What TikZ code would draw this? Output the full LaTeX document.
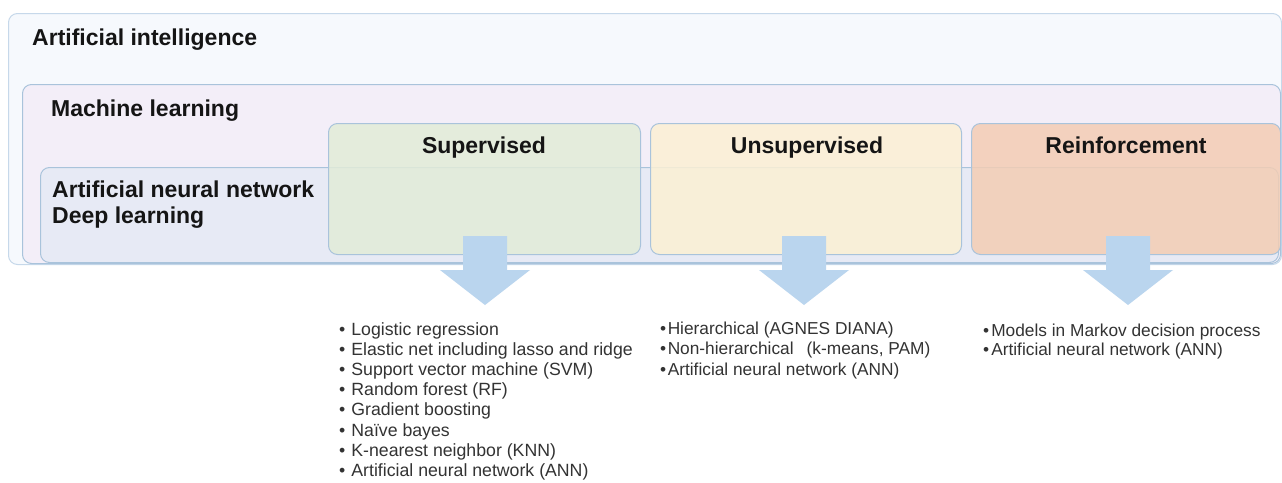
\documentclass[tikz,border=0pt]{standalone}
\usepackage{fontspec}
\setmainfont{Liberation Sans}
\definecolor{aiF}{HTML}{F6F9FD}
\definecolor{aiD}{HTML}{C6D8EA}
\definecolor{mlF}{HTML}{F3EEF8}
\definecolor{annF}{HTML}{E7EAF5}
\definecolor{bD}{HTML}{A9C3DB}
\definecolor{supF}{HTML}{E2ECD8}
\definecolor{unsF}{HTML}{FCF0D4}
\definecolor{renF}{HTML}{F3CDB4}
\definecolor{arrC}{HTML}{BAD5EE}
\definecolor{txt}{HTML}{151515}
\definecolor{ltxt}{HTML}{333333}
\tikzset{
  box/.style={draw=bD, line width=1pt, rounded corners=9pt, inner sep=0pt, anchor=north west},
  catbox/.style={box, fill opacity=0.85},
  head/.style={font=\fontsize{23}{26}\selectfont\bfseries, text=txt, inner sep=0pt},
  item/.style={font=\fontsize{17.7}{20}\selectfont, text=ltxt, inner sep=0pt, anchor=base west},
  smallitem/.style={item, font=\fontsize{17.3}{20}\selectfont},
  downarr/.pic={\fill[arrC] (-22,0) -- (22,0) -- (22,34) -- (45,34) -- (0,69) -- (-45,34) -- (-22,34) -- cycle;}
}
\begin{document}
\begin{tikzpicture}[x=1pt,y=-1pt]
\useasboundingbox[fill=white] (0,0) rectangle (1282,482);
% nested boxes
\node[box, fill=aiF, draw=aiD, minimum width=1273pt, minimum height=251pt] (ai) at (8,13) {};
\node[box, fill=mlF, minimum width=1258pt, minimum height=179pt] (ml) at (22,84) {};
\node[box, fill=annF, minimum width=1238pt, minimum height=95pt] (ann) at (40,167) {};
% category boxes
\node[catbox, fill=supF, minimum width=312pt, minimum height=131pt] (sup) at (328,123) {};
\node[catbox, fill=unsF, minimum width=311pt, minimum height=131pt] (uns) at (650,123) {};
\node[catbox, fill=renF, minimum width=309pt, minimum height=131pt] (ren) at (971,123) {};
% headings
\node[head, anchor=base west] (tai) at (32,45) {Artificial intelligence};
\node[head, anchor=base west] (tml) at (51,116) {Machine learning};
\node[head, anchor=base west] (tann) at (52,197) {Artificial neural network};
\node[head, anchor=base west] (tdl) at (52,223) {Deep learning};
\node[head, anchor=base] (tsup) at (484,153) {Supervised};
\node[head, anchor=base] (tuns) at (807,153) {Unsupervised};
\node[head, anchor=base] (tren) at (1126,153) {Reinforcement};
% arrows
\coordinate (asup) at (485,236);
\coordinate (auns) at (804,236);
\coordinate (aren) at (1128,236);
\pic at (asup) {downarr};
\pic at (auns) {downarr};
\pic at (aren) {downarr};
% lists
\foreach \t [count=\i] in {Logistic regression, Elastic net including lasso and ridge, Support vector machine (SVM), Random forest (RF), Gradient boosting, Naïve bayes, K-nearest neighbor (KNN), Artificial neural network (ANN)}
  \node[item] (s\i) at (339,{335+20.2*(\i-1)}) {•\hspace{6pt}\t};
\foreach \t [count=\i] in {Hierarchical (AGNES DIANA), {Non-hierarchical\hspace{13pt}(k-means, PAM)}, Artificial neural network (ANN)}
  \node[smallitem] (u\i) at (660,{334+20.5*(\i-1)}) {•\hspace{1.5pt}\t};
\foreach \t [count=\i] in {Models in Markov decision process, Artificial neural network (ANN)}
  \node[smallitem] (r\i) at (983,{336+19.8*(\i-1)}) {•\hspace{2pt}\t};
\end{tikzpicture}
\end{document}
